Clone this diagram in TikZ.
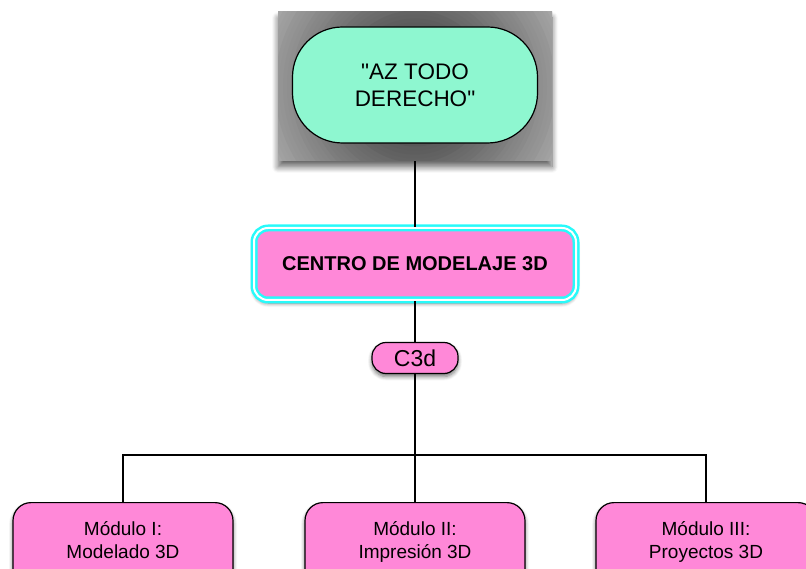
\documentclass[tikz,border=0pt]{standalone}
\usepackage{fontspec}
\setmainfont{Liberation Sans}
\usetikzlibrary{shadows.blur}

\definecolor{mint}{RGB}{142,247,208}
\definecolor{rosa}{RGB}{255,136,216}
\definecolor{celeste}{RGB}{40,250,250}

\tikzset{
  sombra/.style={blur shadow={shadow xshift=0pt, shadow yshift=-3pt, shadow blur steps=6, shadow blur radius=4pt, shadow opacity=55}},
  modulo/.style={draw, line width=1.2pt, fill=rosa, rounded corners=18pt, sombra,
    minimum width=220pt, text height=37pt, text depth=40pt, inner ysep=19pt,
    align=center, anchor=north, font=\fontsize{19}{23}\selectfont},
  linea/.style={line width=1.2pt}
}

\begin{document}
\begin{tikzpicture}[x=1pt,y=-1pt]
\clip (0,0) rectangle (806,569);

% marco gris con brillo radial
\node[inner sep=0pt, minimum width=274pt, minimum height=149pt, fill=black!35,
  blur shadow={shadow xshift=0pt, shadow yshift=-6pt, shadow blur steps=8, shadow blur radius=6pt, shadow opacity=60},
  path picture={
    \foreach \r in {160,156,...,56} {
      \pgfmathtruncatemacro\g{85-55*\r/175}
      \fill[black!\g] (path picture bounding box.center) circle (\r pt);
    }}] (marco) at (415,86.5) {};
\node[draw, line width=1.2pt, fill=mint, rounded corners=50pt, minimum width=245pt,
  minimum height=116pt, align=center, font=\fontsize{22.5}{27}\selectfont] (az) at (415,85) {\textquotedbl AZ TODO\\DERECHO\textquotedbl};

\node[draw=celeste, line width=2.5pt, double=white, double distance=2pt, fill=rosa,
  rounded corners=14pt, minimum width=322pt, minimum height=72pt, sombra,
  font=\fontsize{20}{24}\bfseries] (centro) at (415,264) {CENTRO DE MODELAJE 3D};

\node[draw, line width=1.2pt, fill=rosa, rounded corners=14pt, minimum width=86pt,
  minimum height=31pt, inner sep=0pt, sombra, font=\fontsize{23}{27}\selectfont] (c3d) at (415,358) {C3d};

\node[modulo] (m1) at (123,502) {Módulo I:\\Modelado 3D};
\node[modulo] (m2) at (415,502) {Módulo II:\\Impresión 3D};
\node[modulo] (m3) at (706,502) {Módulo III:\\Proyectos 3D};

\coordinate (barra) at (415,455);
\draw[linea] (marco.south) -- (centro.north);
\draw[linea] (centro.south) -- (c3d.north);
\draw[linea] (c3d.south) -- (m2.north);
\draw[linea] (m1.north) |- (barra) -| (m3.north);

\end{tikzpicture}
\end{document}
